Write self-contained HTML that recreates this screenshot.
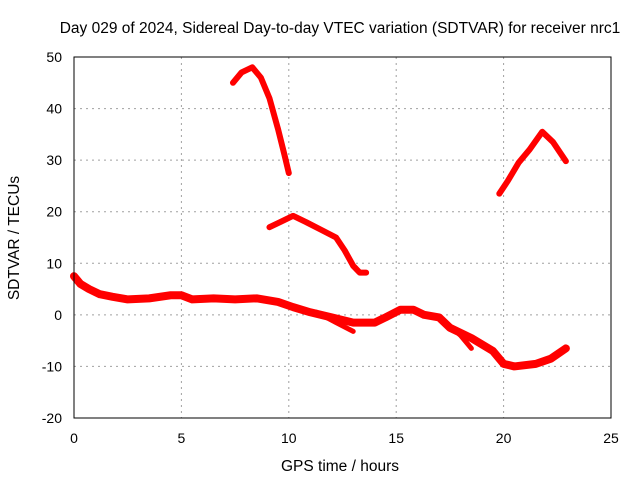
<!DOCTYPE html>
<html><head><meta charset="utf-8"><style>
body{margin:0;background:#fff}
svg text{font-family:"Liberation Sans",sans-serif;font-size:14px;fill:#000}
svg text.big{font-size:15.5px}
</style></head><body>
<svg width="640" height="480" id="c">
<text class="big" x="340" y="33" text-anchor="middle">Day 029 of 2024, Sidereal Day-to-day VTEC variation (SDTVAR) for receiver nrc1</text>
<text class="big" x="340" y="471" text-anchor="middle">GPS time / hours</text>
<text class="big" transform="translate(19,238) rotate(-90)" text-anchor="middle">SDTVAR / TECUs</text>
<g id="grid"></g><g id="ticks"></g><g id="series"></g>
<rect x="74" y="57" width="537" height="361" fill="none" stroke="#000"/>
</svg>
<script>
const xTicks=[0,5,10,15,20,25];
const yTicks=[-20,-10,0,10,20,30,40,50];
const mainTime=[0,0.3,0.7,1.2,1.8,2.5,3.5,4.5,5,5.5,6.5,7.5,8.5,9.5,10.2,11,12,13,14,14.5,15.2,15.8,16.3,17,17.5,18.5,19.5,20,20.5,21.5,22.2,22.9];
const mainVal=[7.5,6,5,4,3.5,3,3.2,3.8,3.8,3,3.2,3,3.2,2.5,1.5,0.5,-0.5,-1.5,-1.5,-0.5,1,1,0,-0.5,-2.5,-4.5,-7,-9.5,-10,-9.5,-8.5,-6.5];
const arc1Time=[7.4,7.8,8.3,8.7,9.1,9.5,9.8,10];
const arc1Val=[45,47,48,46,42,36,31,27.5];
const arc2Time=[9.1,9.6,10.2,10.8,11.5,12.2,12.6,13,13.3,13.6];
const arc2Val=[17,18,19.2,18,16.5,15,12.5,9.5,8.2,8.2];
const arc3Time=[19.8,20.2,20.7,21.2,21.8,22.3,22.9];
const arc3Val=[23.5,26,29.5,32,35.5,33.5,29.8];
const br1Time=[11.3,12.2,13];
const br1Val=[0.5,-1.5,-3.2];
const br2Time=[17.2,18,18.5];
const br2Val=[-1,-4,-6.5];
const X=v=>74+v*(537/25), Y=v=>418-(v+20)*(361/70);
const NS="http://www.w3.org/2000/svg";
const grid=document.getElementById('grid'),ticks=document.getElementById('ticks'),ser=document.getElementById('series');
function mk(t,a,p){const e=document.createElementNS(NS,t);for(const k in a)e.setAttribute(k,a[k]);p.appendChild(e);return e;}
xTicks.forEach(v=>{
 const g=mk('line',{x1:X(v),x2:X(v),y1:57,y2:418,stroke:'#a0a0a0','stroke-dasharray':'2,4'},grid);
 
 
 const t=mk('text',{x:X(v),y:443,'text-anchor':'middle'},ticks);t.textContent=v;
 
 
});
yTicks.forEach(v=>{
 const g=mk('line',{x1:74,x2:611,y1:Y(v),y2:Y(v),stroke:'#a0a0a0','stroke-dasharray':'2,4'},grid);
 
 
 const t=mk('text',{x:62,y:Y(v)+5,'text-anchor':'end'},ticks);t.textContent=v;
 
 
});
[[mainTime,mainVal,'series-main',8],[arc1Time,arc1Val,'series-arc-1',6],[arc2Time,arc2Val,'series-arc-2',6],[arc3Time,arc3Val,'series-arc-3',6],[br1Time,br1Val,'series-branch-1',5],[br2Time,br2Val,'series-branch-2',5]].forEach(([t,v,n,w])=>{
 const p=mk('polyline',{points:t.map((x,i)=>X(x)+','+Y(v[i])).join(' '),fill:'none',stroke:'#ff0000','stroke-width':w,'stroke-linejoin':'round','stroke-linecap':'round'},ser);
 
 
});
</script>
</body></html>
